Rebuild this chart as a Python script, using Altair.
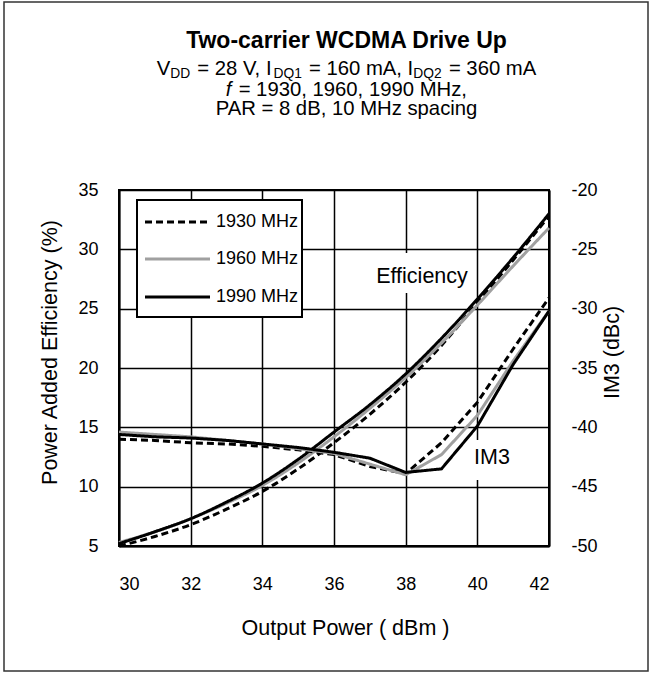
import altair as alt
import pandas as pd

FONT = "Liberation Sans"

# ---------------- data ----------------
power = [30, 31, 32, 33, 34, 35, 36, 37, 38, 39, 40, 41, 42]
series = ["1930 MHz", "1960 MHz", "1990 MHz"]

eff_1930 = [5.0, 5.8, 6.8, 8.1, 9.6, 11.5, 13.7, 16.1, 18.8, 21.9, 25.5, 29.1, 32.8]
eff_1960 = [5.3, 6.2, 7.3, 8.6, 10.1, 12.0, 14.2, 16.6, 19.2, 22.1, 25.3, 28.6, 31.8]
eff_1990 = [5.2, 6.2, 7.3, 8.7, 10.3, 12.3, 14.6, 16.9, 19.5, 22.5, 25.8, 29.3, 33.0]

im3_1930 = [-41.0, -41.1, -41.3, -41.4, -41.6, -41.9, -42.3, -43.3, -43.9, -41.3, -37.9, -33.4, -29.1]
im3_1960 = [-40.4, -40.6, -40.8, -41.1, -41.4, -41.8, -42.2, -43.1, -44.0, -42.3, -39.0, -34.4, -30.2]
im3_1990 = [-40.6, -40.8, -40.9, -41.1, -41.4, -41.7, -42.1, -42.6, -43.8, -43.5, -39.9, -34.7, -30.2]

x_ticks = [30, 32, 34, 36, 38, 40, 42]
eff_ticks = [5, 10, 15, 20, 25, 30, 35]
im3_ticks = [-50, -45, -40, -35, -30, -25, -20]

title_text = "Two-carrier WCDMA Drive Up"
line1_pieces = [("V", "m"), ("DD", "s"), (" = 28 V, I", "m"), ("DQ1", "s"),
                (" = 160 mA, I", "m"), ("DQ2", "s"), (" = 360 mA", "m")]
line2_pieces = [("f", "i"), (" = 1930, 1960, 1990 MHz,", "m")]
line3_text = "PAR = 8 dB, 10 MHz spacing"

eff_vals = dict(zip(series, [eff_1930, eff_1960, eff_1990]))
im3_vals = dict(zip(series, [im3_1930, im3_1960, im3_1990]))
rows = []
for s in series:
    for p, e, i in zip(power, eff_vals[s], im3_vals[s]):
        rows.append({"series": s, "p": p, "eff": e, "im3": i})
df = pd.DataFrame(rows)

# Arial / Liberation Sans advance widths (per 1000 em)
AW = {' ': 278, '=': 584, ',': 278, 'V': 667, 'I': 278, 'm': 833, 'A': 667,
      'D': 722, 'Q': 778, 'M': 833, 'H': 722, 'z': 500, 'f': 278}
for d in "0123456789":
    AW[d] = 556

def tw(s, size):
    return sum(AW.get(c, 556) for c in s) * size / 1000.0

one = pd.DataFrame({"t": [""]})

def text_layer(s, x, y, size, **kw):
    return alt.Chart(pd.DataFrame({"t": [s]})).mark_text(
        font=FONT, fontSize=size, color="black", **kw
    ).encode(text="t:N", x=alt.value(x), y=alt.value(y))

def rect_layer(x, x2, y, y2, **kw):
    return alt.Chart(one).mark_rect(**kw).encode(
        x=alt.value(x), x2=alt.value(x2), y=alt.value(y), y2=alt.value(y2))

CX = 227.5
MAIN, SUB = 20.3, 13.8
GAP = 1.5

def pieces_layers(pieces, base_y):
    sizes = {"m": MAIN, "s": SUB, "i": MAIN}
    gaps = [GAP if k in ("s", "i") else 0 for _, k in pieces]
    total = sum(tw(t, sizes[k]) for t, k in pieces) + sum(gaps)
    x = CX - total / 2
    out = []
    for (t, k), g in zip(pieces, gaps):
        size = sizes[k]
        lead = len(t) - len(t.lstrip(" "))
        xx = x + tw(" " * lead, size)
        yy = base_y + (3 if k == "s" else 0)
        kw = dict(align="left", baseline="alphabetic")
        if k == "i":
            kw["fontStyle"] = "italic"
        out.append(text_layer(t.strip(), xx, yy, size, **kw))
        x += tw(t, size) + g
    return out

# ---------------- encodings ----------------
color = alt.Color("series:N", scale=alt.Scale(domain=series, range=["#000000", "#a0a0a0", "#000000"]), legend=None)
dash = alt.StrokeDash("series:N", scale=alt.Scale(domain=series, range=[[7, 4], [1, 0], [1, 0]]), legend=None)
x_enc = alt.X("p:Q", scale=alt.Scale(domain=[30, 42], nice=False, zero=False),
              axis=alt.Axis(values=x_ticks, title="Output Power ( dBm )", grid=True,
                            labelPadding=29, titleX=226, titleY=88, titleBaseline="alphabetic",
                            ticks=False))

eff_line = alt.Chart(df).mark_line(strokeWidth=3, interpolate="monotone").encode(
    x=x_enc,
    y=alt.Y("eff:Q", scale=alt.Scale(domain=[5, 35], nice=False, zero=False),
            axis=alt.Axis(orient="left", values=eff_ticks, title="Power Added Efficiency (%)",
                          grid=True, ticks=False, labelPadding=21, titleAngle=-90,
                          titleX=-69, titleY=162, titleBaseline="middle", titleAlign="center")),
    color=color, strokeDash=dash, detail="series:N")

im3_line = alt.Chart(df).mark_line(strokeWidth=3).encode(
    x=x_enc,
    y=alt.Y("im3:Q", scale=alt.Scale(domain=[-50, -20], nice=False, zero=False),
            axis=alt.Axis(orient="right", values=im3_ticks, title="IM3 (dBc)",
                          grid=False, ticks=False, labelPadding=22, labelAlign="left",
                          labelExpr="'' + datum.value", titleAngle=-90,
                          titleX=63, titleY=162, titleBaseline="middle", titleAlign="center")),
    color=color, strokeDash=dash, detail="series:N")

layers = [
    rect_layer(-115, 529, -188, 481, fillOpacity=0, stroke="#333333", strokeWidth=1.5),
    eff_line,
    im3_line,
    rect_layer(252, 352, 63, 103, fill="white"),
    text_layer("Efficiency", 303, 87, 21.5, align="center", baseline="middle"),
    rect_layer(352, 395, 250, 290, fill="white"),
    text_layer("IM3", 373, 268, 21.5, align="center", baseline="middle"),
    # legend
    rect_layer(18, 183, 10, 127, fill="white", stroke="black", strokeWidth=2),
]
leg_y = [32, 69, 107]
leg_style = [("black", [7, 4]), ("#a0a0a0", [1, 0]), ("black", [1, 0])]
for s, yy, (c, d) in zip(series, leg_y, leg_style):
    layers.append(alt.Chart(one).mark_rule(color=c, strokeWidth=3, strokeDash=d).encode(
        x=alt.value(26), x2=alt.value(91), y=alt.value(yy)))
    layers.append(text_layer(s, 97, yy, 18, align="left", baseline="middle"))

layers.append(text_layer(title_text, CX, -142, 23, align="center", baseline="alphabetic", fontWeight="bold"))
layers += pieces_layers(line1_pieces, -115)
layers += pieces_layers(line2_pieces, -94)
layers.append(text_layer(line3_text, CX, -75, MAIN, align="center", baseline="alphabetic"))

chart = alt.layer(*layers).resolve_scale(y="independent").properties(
    width=430, height=356,
    padding={"left": 119, "top": 190, "right": 102, "bottom": 127},
    autosize=alt.AutoSizeParams(type="none"),
    background="white",
).configure_axis(
    labelFont=FONT, titleFont=FONT, labelFontSize=18, titleFontSize=21.5,
    labelColor="black", titleColor="black", titleFontWeight="normal",
    domainColor="black", domainWidth=2, gridColor="black", gridWidth=1.5,
    gridOpacity=1, tickSize=0,
).configure_view(stroke="black", strokeWidth=2)

chart.save("out.html", embed_options={"renderer": "svg", "actions": False})
